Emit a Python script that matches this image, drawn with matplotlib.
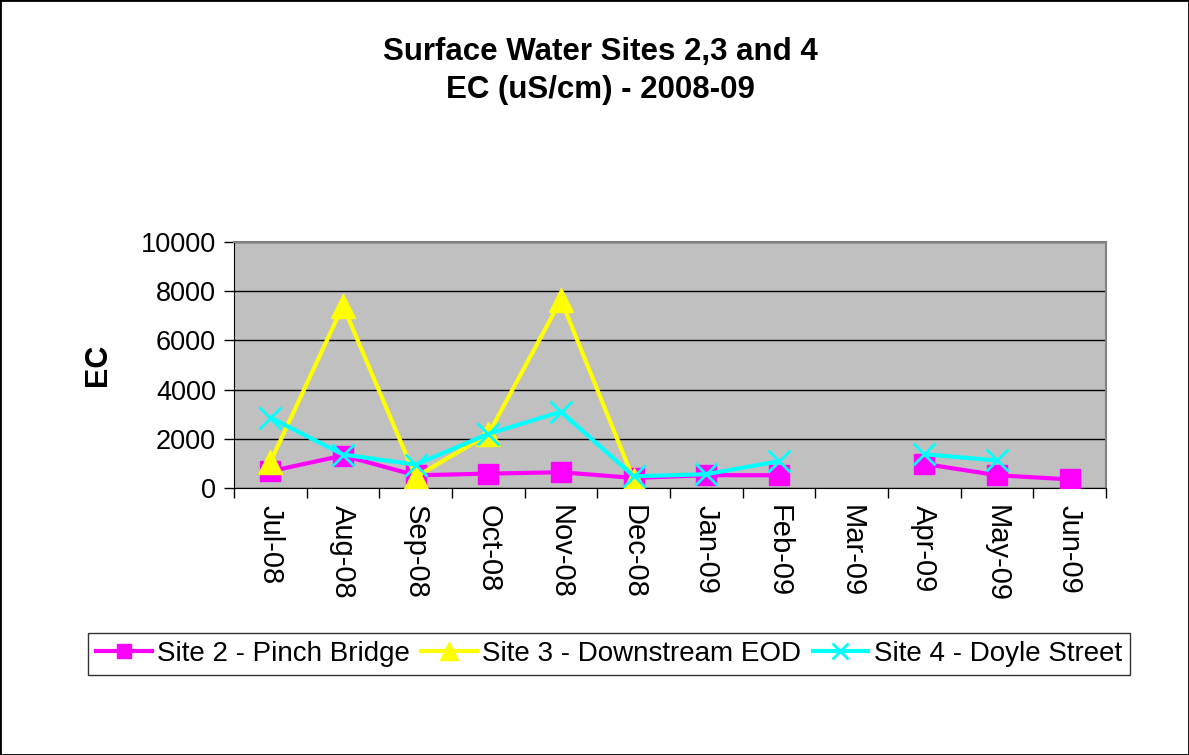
import numpy as np
import matplotlib
matplotlib.use("Agg")
import matplotlib.pyplot as plt
from matplotlib.patches import Rectangle

plt.rcParams['font.family'] = ['Liberation Sans', 'DejaVu Sans']

months = ['Jul-08', 'Aug-08', 'Sep-08', 'Oct-08', 'Nov-08', 'Dec-08',
          'Jan-09', 'Feb-09', 'Mar-09', 'Apr-09', 'May-09', 'Jun-09']
nan = np.nan
site2 = [680, 1320, 515, 585, 640, 410, 520, 520, nan, 980, 520, 350]
site3 = [1050, 7410, 450, 2180, 7650, 340, nan, nan, nan, nan, nan, nan]
site4 = [2860, 1360, 950, 2200, 3100, 475, 560, 1090, nan, 1370, 1120, nan]

fig = plt.figure(figsize=(11.89, 7.55), dpi=100)
ax = fig.add_axes([234 / 1189, 1 - 488 / 755, (1106 - 234) / 1189, (488 - 242) / 755])
ax.set_facecolor('#C0C0C0')

x = np.arange(len(months))
l2, = ax.plot(x, site2, color='#FF00FF', lw=3, marker='s', ms=14, zorder=3,
              label='Site 2 - Pinch Bridge')
l3, = ax.plot(x, site3, color='#FFFF00', lw=3, marker='^', ms=17, zorder=4,
              label='Site 3 - Downstream EOD')
l4, = ax.plot(x, site4, color='#00FFFF', lw=3, marker='x', ms=16, mew=2, zorder=5,
              label='Site 4 - Doyle Street')

ax.set_xlim(-0.5, len(months) - 0.5)
ax.set_ylim(0, 10000)
ax.set_yticks(range(0, 10001, 2000))
ax.set_yticklabels([str(v) for v in range(0, 10001, 2000)], fontsize=19.5)
ax.set_xticks(x)
ax.set_xticklabels(months, rotation=-90, fontsize=21)
ax.tick_params(axis='x', which='major', length=0, pad=12)
ax.set_xticks(np.arange(-0.5, len(months)), minor=True)
ax.tick_params(axis='x', which='minor', length=7, width=1, direction='out')
ax.tick_params(axis='y', length=7, width=1, direction='out', pad=6)
ax.yaxis.grid(True, color='black', lw=1)
ax.set_axisbelow(True)
for s in ['top', 'right']:
    ax.spines[s].set_color('#808080')
    ax.spines[s].set_linewidth(1.5)
for s in ['left', 'bottom']:
    ax.spines[s].set_color('black')

ax.set_ylabel('EC', fontsize=22, fontweight='bold', labelpad=20)

fig.text(600 / 1189, 1 - 71 / 755, 'Surface Water Sites 2,3 and 4\nEC (uS/cm) - 2008-09',
         ha='center', va='center', fontsize=22.5, fontweight='bold', linespacing=1.35)

leg = fig.legend(handles=[l2, l3, l4], loc='center', bbox_to_anchor=(609 / 1189, 1 - 654 / 755),
                 ncol=3, fontsize=20, frameon=True, fancybox=False, edgecolor='black',
                 handlelength=2.0, handletextpad=0.2, columnspacing=0.4, borderpad=0.3,
                 markerscale=0.75)
leg.get_frame().set_linewidth(1)

fig.patches.append(Rectangle((0, 0), 1, 1, transform=fig.transFigure, fill=False,
                             edgecolor='black', lw=2))

fig.savefig('out.png', dpi=100)
